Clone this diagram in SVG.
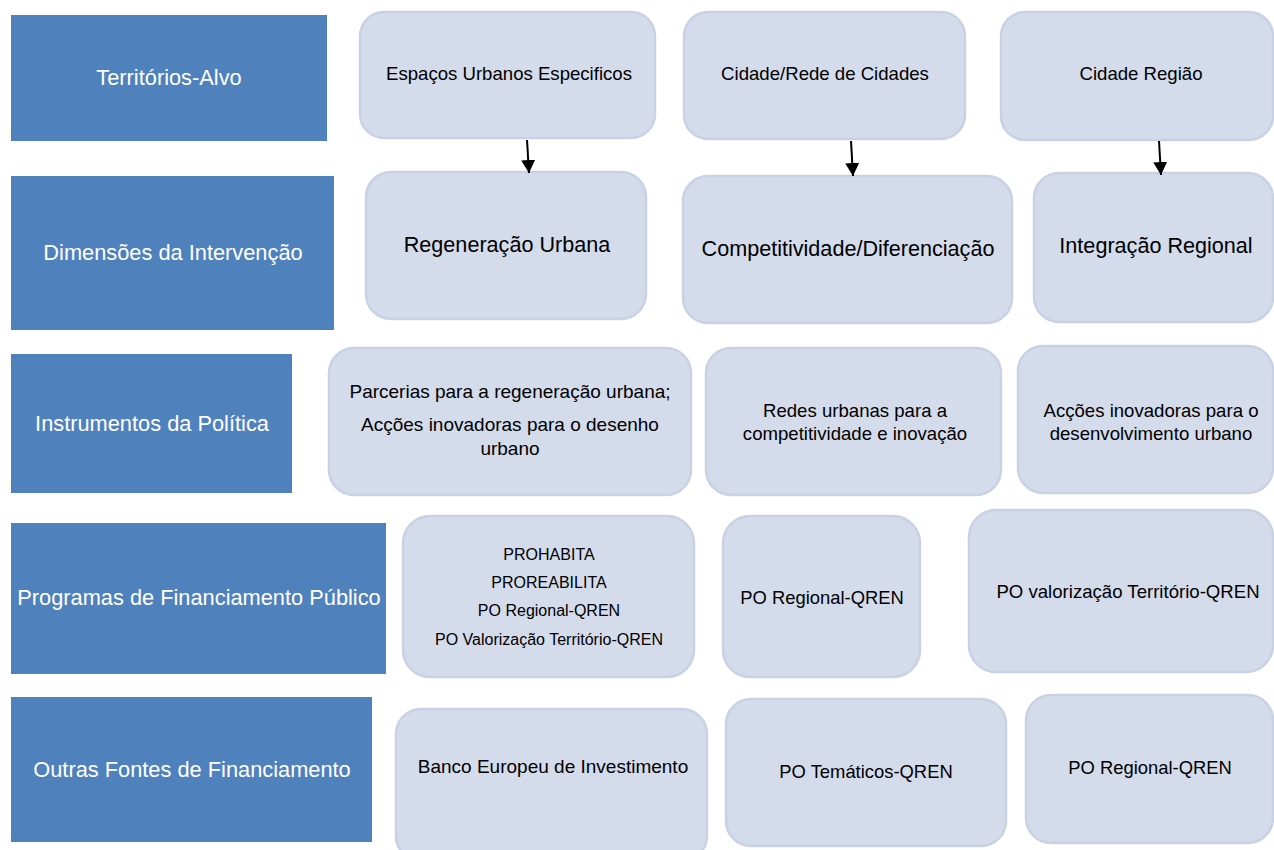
<svg xmlns="http://www.w3.org/2000/svg" width="1274" height="850" viewBox="0 0 1274 850">
<style>
.hdr{fill:#4F81BD}
.box{fill:#D4DBEA;stroke:#C9D1E4;stroke-width:2.5}
text{font-family:"Liberation Sans",Arial,sans-serif;text-anchor:middle}
.ht{fill:#FFFFFF;font-size:21.8px}
.t{fill:#000000}
.s185{font-size:18.6px}
.s21{font-size:21.6px}
.s19{font-size:19px}
.s16{font-size:16px}
.s18{font-size:18.4px}
.conn{stroke:#000;stroke-width:2;fill:none}
</style>
<defs>
<marker id="ah" markerUnits="userSpaceOnUse" markerWidth="14" markerHeight="14" viewBox="0 0 14 14" refX="13" refY="7" orient="auto">
<path d="M0,0 L13,7 L0,14 z" fill="#000"/>
</marker>
</defs>
<rect width="1274" height="850" fill="#FFFFFF"/>

<g id="h1"><rect class="hdr" x="11" y="15" width="316" height="126"/><text class="ht" x="169" y="85">Territórios-Alvo</text></g>
<g id="h2"><rect class="hdr" x="11" y="176" width="323" height="154"/><text class="ht" x="173" y="260">Dimensões da Intervenção</text></g>
<g id="h3"><rect class="hdr" x="11" y="354" width="281" height="139"/><text class="ht" x="152" y="431">Instrumentos da Política</text></g>
<g id="h4"><rect class="hdr" x="11" y="523" width="375" height="151"/><text class="ht" x="199" y="605">Programas de Financiamento Público</text></g>
<g id="h5"><rect class="hdr" x="11" y="697" width="361" height="145"/><text class="ht" x="192" y="777">Outras Fontes de Financiamento</text></g>

<g id="a1"><rect class="box" x="360" y="12" width="295" height="126" rx="24"/><text class="t s185" x="509" y="80">Espaços Urbanos Especificos</text></g>
<g id="a2"><rect class="box" x="684" y="12" width="281" height="127" rx="24"/><text class="t s185" x="825" y="80">Cidade/Rede de Cidades</text></g>
<g id="a3"><rect class="box" x="1001" y="12" width="272" height="128" rx="24"/><text class="t s185" x="1141" y="80">Cidade Região</text></g>

<g id="b1"><rect class="box" x="366" y="172" width="280" height="147" rx="25"/><text class="t s21" x="507" y="252">Regeneração Urbana</text></g>
<g id="b2"><rect class="box" x="683" y="176" width="329" height="147" rx="25"/><text class="t s21" x="848" y="256">Competitividade/Diferenciação</text></g>
<g id="b3"><rect class="box" x="1034" y="173" width="239" height="149" rx="25"/><text class="t s21" x="1156" y="253">Integração Regional</text></g>

<g id="c1"><rect class="box" x="329" y="348" width="362" height="147" rx="25"/><text class="t s19" x="510" y="398">Parcerias para a regeneração urbana;</text><text class="t s19" x="510" y="431">Acções inovadoras para o desenho</text><text class="t s19" x="510" y="455">urbano</text></g>
<g id="c2"><rect class="box" x="706" y="348" width="295" height="147" rx="25"/><text class="t s185" x="855" y="417">Redes urbanas para a</text><text class="t s185" x="855" y="440">competitividade e inovação</text></g>
<g id="c3"><rect class="box" x="1018" y="346" width="255" height="147" rx="25"/><text class="t s185" x="1151" y="417">Acções inovadoras para o</text><text class="t s185" x="1151" y="440">desenvolvimento urbano</text></g>

<g id="d1"><rect class="box" x="403" y="516" width="291" height="161" rx="27"/><text class="t s16" x="549" y="560">PROHABITA</text><text class="t s16" x="549" y="588">PROREABILITA</text><text class="t s16" x="549" y="616">PO Regional-QREN</text><text class="t s16" x="549" y="645">PO Valorização Território-QREN</text></g>
<g id="d2"><rect class="box" x="723" y="516" width="197" height="161" rx="27"/><text class="t s18" x="822" y="604">PO Regional-QREN</text></g>
<g id="d3"><rect class="box" x="969" y="510" width="304" height="162" rx="27"/><text class="t s185" x="1128" y="598">PO valorização Território-QREN</text></g>

<g id="e1"><rect class="box" x="396" y="709" width="311" height="152" rx="25"/><text class="t s19" x="553" y="773">Banco Europeu de Investimento</text></g>
<g id="e2"><rect class="box" x="726" y="699" width="280" height="147" rx="25"/><text class="t s18" x="866" y="778">PO Temáticos-QREN</text></g>
<g id="e3"><rect class="box" x="1026" y="695" width="247" height="148" rx="25"/><text class="t s18" x="1150" y="774">PO Regional-QREN</text></g>

<g id="connectors">
<line class="conn" x1="527" y1="140" x2="529" y2="173" marker-end="url(#ah)"/>
<line class="conn" x1="851" y1="141" x2="853" y2="176" marker-end="url(#ah)"/>
<line class="conn" x1="1159" y1="141" x2="1161" y2="175" marker-end="url(#ah)"/>
</g>
</svg>
